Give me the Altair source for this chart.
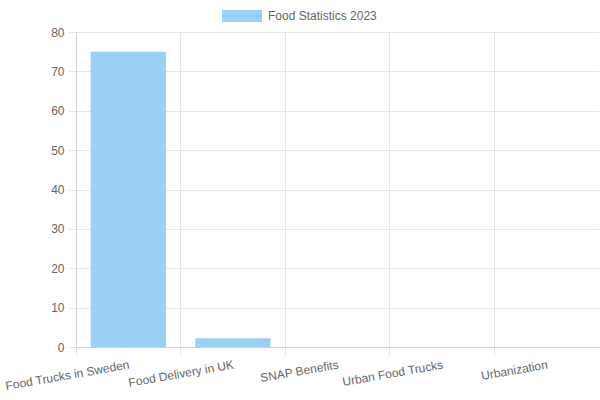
import altair as alt
import pandas as pd

categories = ["Food Trucks in Sweden", "Food Delivery in UK", "SNAP Benefits", "Urban Food Trucks", "Urbanization"]
values = [75, 2.2, 0, 0, 0]
series_name = "Food Statistics 2023"

df = pd.DataFrame({"category": categories, "value": values, "series": [series_name] * len(categories)})

grid_color = "#e6e6e6"
fill = "#9bd0f5"

chart = alt.Chart(df).mark_bar(width=alt.RelativeBandSize(0.72), strokeWidth=0).encode(
    x=alt.X("category:N", sort=categories, title=None,
            scale=alt.Scale(paddingInner=0, paddingOuter=0),
            axis=alt.Axis(bandPosition=0, grid=True, gridColor=grid_color, tickColor=grid_color,
                          domainColor="#d0d0d0", tickSize=8, labelAngle=350, labelAlign="right",
                          labelBaseline="top", labelPadding=4, labelColor="#666666",
                          labelFont="Liberation Sans", labelFontSize=12)),
    y=alt.Y("value:Q", title=None,
            scale=alt.Scale(domain=[0, 80], nice=False),
            axis=alt.Axis(values=list(range(0, 81, 10)), grid=True, gridColor=grid_color,
                          tickColor=grid_color, domainColor="#d0d0d0", tickSize=8, labelPadding=4,
                          labelColor="#666666", labelFont="Liberation Sans", labelFontSize=12)),
    color=alt.Color("series:N", title=None,
                    scale=alt.Scale(range=[fill]),
                    legend=alt.Legend(orient="none", legendX=156, legendY=-26, padding=0,
                                      symbolType="M-2,-0.6H2V0.6H-2Z", symbolSize=400,
                                      symbolStrokeWidth=0, symbolOpacity=1, labelOffset=16,
                                      labelColor="#666666", labelFont="Liberation Sans",
                                      labelFontSize=12)),
).properties(
    width=523, height=315,
    autosize=alt.AutoSizeParams(type="none"),
    padding={"left": 76, "top": 32, "right": 1, "bottom": 53},
).configure_view(stroke=None)

chart.save("out.html", embed_options={"renderer": "svg", "actions": False})
